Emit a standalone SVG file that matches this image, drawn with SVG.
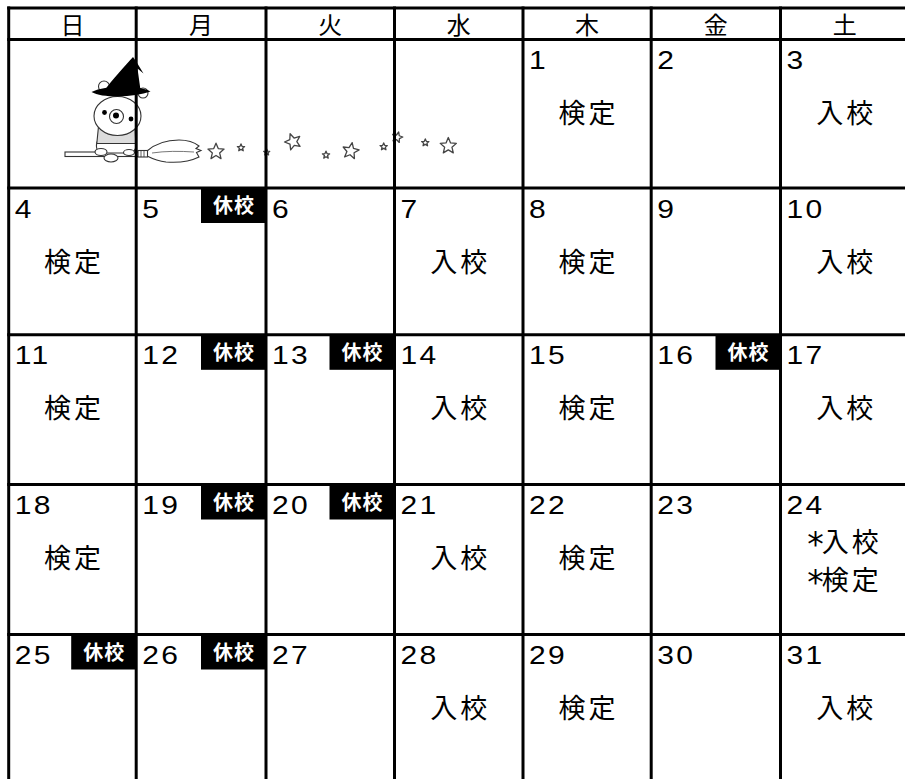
<svg xmlns="http://www.w3.org/2000/svg" width="905" height="779" viewBox="0 0 905 779">
<style>
.hd{font-family:"Noto Sans CJK JP","Liberation Sans",sans-serif;font-size:24px;text-anchor:middle;fill:#000}
.num{font-family:"Liberation Sans",Arial,sans-serif;font-size:25px;letter-spacing:2px;fill:#000}
.ev{font-family:"Noto Sans CJK JP",sans-serif;font-size:27px;letter-spacing:3px;text-anchor:middle;fill:#000}
.ast{font-family:"DejaVu Sans",sans-serif;font-size:33px;letter-spacing:-2px}
.bd{fill:#000}
.bt{font-family:"Noto Sans CJK JP",sans-serif;font-size:20px;font-weight:bold;letter-spacing:1px;text-anchor:middle;fill:#fff}
.grid line{stroke:#000;stroke-width:3}
.st{fill:#fff;stroke:#444;stroke-width:1.3;stroke-linejoin:round;vector-effect:non-scaling-stroke}
.ol{stroke:#333;stroke-width:1.1;fill:#fff}
</style>
<defs>
<path id="star" class="st" d="M0,-10 L2.65,-3.64 L9.51,-3.09 L4.28,1.39 L5.88,8.09 L0,4.5 L-5.88,8.09 L-4.28,1.39 L-9.51,-3.09 L-2.65,-3.64 Z"/>
</defs>
<rect width="905" height="779" fill="#fff"/>

<g id="witch-bear">
  <rect class="ol" x="65" y="152" width="76" height="4.5"/>
  <path class="ol" d="M147,151 C155,144 166,140 179,140 C187,140 194,142 199,146 L196,148.5 L201,150.5 L196.5,152.5 L199,157 C191,161 179,163 166,162 C157,161 151,158 147,156 Z"/>
  <path d="M152,153 C165,151 180,151 194,152" fill="none" stroke="#555" stroke-width="0.8"/>
  <rect class="ol" x="138" y="150.5" width="9.5" height="6.5"/>
  <path d="M141,150.5 V157 M144,150.5 V157" stroke="#333" stroke-width="0.8"/>
  <path class="ol" d="M97,142 C95,150 99,154 104,153 L127,153 C133,154 137,150 136,142 Z"/>
  <path d="M98.5,126.5 L135,126.5 L135.8,143.5 L96.8,143.5 Z" fill="#dcdcdc" stroke="#333" stroke-width="1.1"/>
  <ellipse class="ol" cx="101" cy="152" rx="6" ry="3.5"/>
  <ellipse class="ol" cx="111" cy="158" rx="7" ry="4"/>
  <ellipse class="ol" cx="129" cy="152.5" rx="5.5" ry="3"/>
  <circle class="ol" cx="104" cy="86.5" r="5.5"/>
  <circle class="ol" cx="143" cy="93" r="5"/>
  <ellipse class="ol" cx="117.5" cy="116" rx="23.5" ry="19.5"/>
  <circle cx="104.5" cy="112.5" r="2.4" fill="#000"/>
  <circle cx="131" cy="119" r="2.4" fill="#000"/>
  <circle class="ol" cx="116.5" cy="116.5" r="7"/>
  <circle cx="116" cy="115.5" r="3" fill="#000"/>
  <path d="M104,91 C112,80 125,66 133,57 L136.5,62 L143.5,73.5 L137.5,68.5 L140.5,90 Z" fill="#000"/>
  <path d="M91.5,92 C102,87 118,86.5 135,87.5 C142,88 147,89.5 150.5,91.5 C142,94.5 130,96 118,96.5 C106,96.5 97,95 91.5,92 Z" fill="#000"/>
</g>

<g id="stars">
  <use href="#star" transform="translate(216 151.7) scale(0.85)"/>
  <use href="#star" transform="translate(241 147.7) scale(0.38)"/>
  <use href="#star" transform="translate(266.7 152.3) scale(0.32)"/>
  <use href="#star" transform="translate(293 141.7) scale(0.85) rotate(-20)"/>
  <use href="#star" transform="translate(326 155) scale(0.38)"/>
  <use href="#star" transform="translate(350.7 151) scale(0.85) rotate(10)"/>
  <use href="#star" transform="translate(383.7 146.7) scale(0.38)"/>
  <use href="#star" transform="translate(397.3 137.3) scale(0.55) rotate(15)"/>
  <use href="#star" transform="translate(425.3 142.7) scale(0.38)"/>
  <use href="#star" transform="translate(448.3 146) scale(0.85)"/>
</g>

<g id="header">
  <g id="h-sun"><text class="hd" x="72.45" y="34">日</text></g>
  <g id="h-mon"><text class="hd" x="201.1" y="34">月</text></g>
  <g id="h-tue"><text class="hd" x="330.25" y="34">火</text></g>
  <g id="h-wed"><text class="hd" x="458.75" y="34">水</text></g>
  <g id="h-thu"><text class="hd" x="587.1" y="34">木</text></g>
  <g id="h-fri"><text class="hd" x="715.85" y="34">金</text></g>
  <g id="h-sat"><text class="hd" x="844.75" y="34">土</text></g>
</g>

<g id="week1">
  <g id="d1"><text class="num" transform="matrix(1.2 0 0 1 529 69)">1</text><text class="ev" x="588.6" y="123">検定</text></g>
  <g id="d2"><text class="num" transform="matrix(1.2 0 0 1 657.2 69)">2</text></g>
  <g id="d3"><text class="num" transform="matrix(1.2 0 0 1 786.5 69)">3</text><text class="ev" x="846.25" y="123">入校</text></g>
</g>

<g id="week2">
  <g id="d4"><text class="num" transform="matrix(1.2 0 0 1 14.7 217.5)">4</text><text class="ev" x="74" y="271.5">検定</text></g>
  <g id="d5"><text class="num" transform="matrix(1.2 0 0 1 142.2 217.5)">5</text><rect class="bd" x="201" y="188" width="65" height="35"/><text class="bt" x="234" y="213">休校</text></g>
  <g id="d6"><text class="num" transform="matrix(1.2 0 0 1 272 217.5)">6</text></g>
  <g id="d7"><text class="num" transform="matrix(1.2 0 0 1 400.5 217.5)">7</text><text class="ev" x="460.25" y="271.5">入校</text></g>
  <g id="d8"><text class="num" transform="matrix(1.2 0 0 1 529 217.5)">8</text><text class="ev" x="588.6" y="271.5">検定</text></g>
  <g id="d9"><text class="num" transform="matrix(1.2 0 0 1 657.2 217.5)">9</text></g>
  <g id="d10"><text class="num" transform="matrix(1.2 0 0 1 786.5 217.5)">10</text><text class="ev" x="846.25" y="271.5">入校</text></g>
</g>

<g id="week3">
  <g id="d11"><text class="num" transform="matrix(1.2 0 0 1 14.7 364.3)">11</text><text class="ev" x="74" y="418.3">検定</text></g>
  <g id="d12"><text class="num" transform="matrix(1.2 0 0 1 142.2 364.3)">12</text><rect class="bd" x="201" y="334.8" width="65" height="35"/><text class="bt" x="234" y="359.8">休校</text></g>
  <g id="d13"><text class="num" transform="matrix(1.2 0 0 1 272 364.3)">13</text><rect class="bd" x="329.5" y="334.8" width="65" height="35"/><text class="bt" x="362.5" y="359.8">休校</text></g>
  <g id="d14"><text class="num" transform="matrix(1.2 0 0 1 400.5 364.3)">14</text><text class="ev" x="460.25" y="418.3">入校</text></g>
  <g id="d15"><text class="num" transform="matrix(1.2 0 0 1 529 364.3)">15</text><text class="ev" x="588.6" y="418.3">検定</text></g>
  <g id="d16"><text class="num" transform="matrix(1.2 0 0 1 657.2 364.3)">16</text><rect class="bd" x="715.5" y="334.8" width="65" height="35"/><text class="bt" x="748.5" y="359.8">休校</text></g>
  <g id="d17"><text class="num" transform="matrix(1.2 0 0 1 786.5 364.3)">17</text><text class="ev" x="846.25" y="418.3">入校</text></g>
</g>

<g id="week4">
  <g id="d18"><text class="num" transform="matrix(1.2 0 0 1 14.7 514)">18</text><text class="ev" x="74" y="568">検定</text></g>
  <g id="d19"><text class="num" transform="matrix(1.2 0 0 1 142.2 514)">19</text><rect class="bd" x="201" y="484.5" width="65" height="35"/><text class="bt" x="234" y="509.5">休校</text></g>
  <g id="d20"><text class="num" transform="matrix(1.2 0 0 1 272 514)">20</text><rect class="bd" x="329.5" y="484.5" width="65" height="35"/><text class="bt" x="362.5" y="509.5">休校</text></g>
  <g id="d21"><text class="num" transform="matrix(1.2 0 0 1 400.5 514)">21</text><text class="ev" x="460.25" y="568">入校</text></g>
  <g id="d22"><text class="num" transform="matrix(1.2 0 0 1 529 514)">22</text><text class="ev" x="588.6" y="568">検定</text></g>
  <g id="d23"><text class="num" transform="matrix(1.2 0 0 1 657.2 514)">23</text></g>
  <g id="d24"><text class="num" transform="matrix(1.2 0 0 1 786.5 514)">24</text><text class="ev" x="844.5" y="551.5"><tspan class="ast" dy="4">*</tspan><tspan dy="-4">入校</tspan></text><text class="ev" x="844.5" y="590"><tspan class="ast" dy="4">*</tspan><tspan dy="-4">検定</tspan></text></g>
</g>

<g id="week5">
  <g id="d25"><text class="num" transform="matrix(1.2 0 0 1 14.7 664)">25</text><rect class="bd" x="71.2" y="634.5" width="65" height="35"/><text class="bt" x="104.2" y="659.5">休校</text></g>
  <g id="d26"><text class="num" transform="matrix(1.2 0 0 1 142.2 664)">26</text><rect class="bd" x="201" y="634.5" width="65" height="35"/><text class="bt" x="234" y="659.5">休校</text></g>
  <g id="d27"><text class="num" transform="matrix(1.2 0 0 1 272 664)">27</text></g>
  <g id="d28"><text class="num" transform="matrix(1.2 0 0 1 400.5 664)">28</text><text class="ev" x="460.25" y="718">入校</text></g>
  <g id="d29"><text class="num" transform="matrix(1.2 0 0 1 529 664)">29</text><text class="ev" x="588.6" y="718">検定</text></g>
  <g id="d30"><text class="num" transform="matrix(1.2 0 0 1 657.2 664)">30</text></g>
  <g id="d31"><text class="num" transform="matrix(1.2 0 0 1 786.5 664)">31</text><text class="ev" x="846.25" y="718">入校</text></g>
</g>

<g id="connectors"></g>

<g class="grid" id="grid">
  <line x1="7.2" y1="8" x2="905" y2="8"/>
  <line x1="7.2" y1="39.5" x2="905" y2="39.5"/>
  <line x1="7.2" y1="188" x2="905" y2="188"/>
  <line x1="7.2" y1="334.8" x2="905" y2="334.8"/>
  <line x1="7.2" y1="484.5" x2="905" y2="484.5"/>
  <line x1="7.2" y1="634.5" x2="905" y2="634.5"/>
  <line x1="8.7" y1="6.5" x2="8.7" y2="779"/>
  <line x1="136.2" y1="6.5" x2="136.2" y2="779"/>
  <line x1="266" y1="6.5" x2="266" y2="779"/>
  <line x1="394.5" y1="6.5" x2="394.5" y2="779"/>
  <line x1="523" y1="6.5" x2="523" y2="779"/>
  <line x1="651.2" y1="6.5" x2="651.2" y2="779"/>
  <line x1="780.5" y1="6.5" x2="780.5" y2="779"/>
</g>
</svg>
